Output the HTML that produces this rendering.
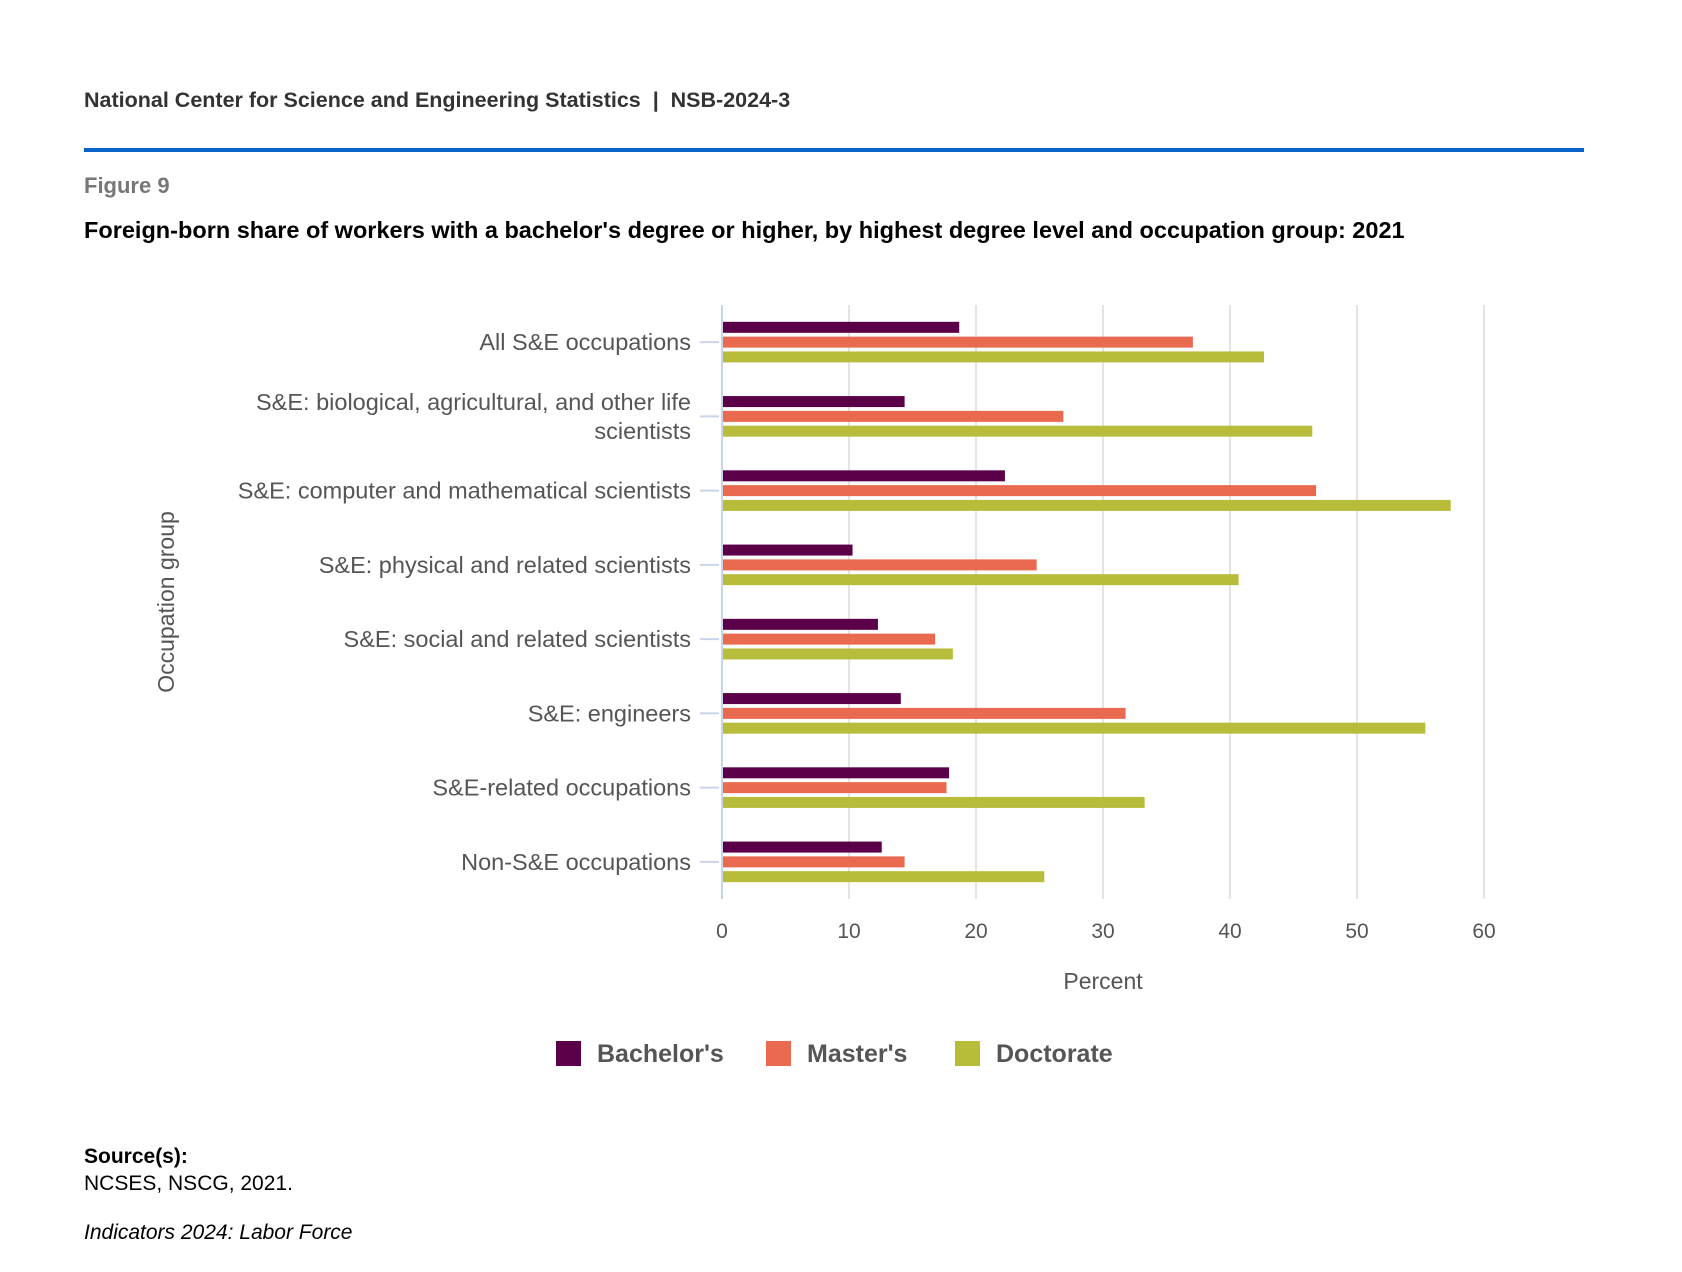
<!DOCTYPE html>
<html><head><meta charset="utf-8"><style>
body{margin:0;background:#fff;width:1682px;height:1272px;overflow:hidden;font-family:"Liberation Sans",sans-serif;}
.abs{position:absolute;white-space:nowrap;}
</style></head><body>
<div class="abs" style="left:84px;top:88px;font-size:21.5px;font-weight:bold;color:#333;">National Center for Science and Engineering Statistics&nbsp; | &nbsp;NSB-2024-3</div>
<div class="abs" style="left:84px;top:148px;width:1500px;height:4px;background:#0b62c9;"></div>
<div class="abs" style="left:84px;top:173px;font-size:22px;font-weight:bold;color:#777;">Figure 9</div>
<div class="abs" style="left:84px;top:217px;font-size:23.5px;font-weight:bold;color:#000;">Foreign-born share of workers with a bachelor's degree or higher, by highest degree level and occupation group: 2021</div>
<svg id="chart" class="abs" style="left:0;top:0" width="1682" height="1272"></svg>
<div class="abs" style="left:84px;top:1145px;font-size:21px;font-weight:bold;">Source(s):</div>
<div class="abs" style="left:84px;top:1172px;font-size:21px;">NCSES, NSCG, 2021.</div>
<div class="abs" style="left:84px;top:1221px;font-size:21px;font-style:italic;">Indicators 2024: Labor Force</div>
<script>
const categories=[["All S&E occupations"],["S&E: biological, agricultural, and other life","scientists"],["S&E: computer and mathematical scientists"],["S&E: physical and related scientists"],["S&E: social and related scientists"],["S&E: engineers"],["S&E-related occupations"],["Non-S&E occupations"]];
const bachelors=[18.6,14.3,22.2,10.2,12.2,14.0,17.8,12.5];
const masters=[37.0,26.8,46.7,24.7,16.7,31.7,17.6,14.3];
const doctorate=[42.6,46.4,57.3,40.6,18.1,55.3,33.2,25.3];
const ticks=[0,10,20,30,40,50,60];
const seriesNames=["Bachelor's","Master's","Doctorate"];
const colors=["#5b0048","#e96a4f","#b7bd3b"];
const svg=document.getElementById('chart');
const NS="http://www.w3.org/2000/svg";
const X0=722,X1=1484,Y0=305,Y1=899;
const x=v=>X0+(v-0)/(60-0)*(X1-X0);
const band=(Y1-Y0)/categories.length;
const yc=i=>Y0+band*(i+0.5);
function mk(t,a){const e=document.createElementNS(NS,t);for(const k in a)e.setAttribute(k,a[k]);svg.appendChild(e);return e;}
ticks.forEach(t=>{
 const g=mk('line',{x1:x(t),x2:x(t),y1:Y0,y2:Y1,stroke:t===0?'#c8d4ea':'#e4e4e4','stroke-width':2});
 
 
 const l=mk('text',{x:x(t),y:938,'text-anchor':'middle','font-size':21,fill:'#555'});
 l.textContent=t;
 
 
});
const series=[bachelors,masters,doctorate];
categories.forEach((c,i)=>{
 const tk=mk('line',{x1:700,x2:719,y1:yc(i),y2:yc(i),stroke:'#c8d4ea','stroke-width':2});
 
 
 const t=mk('text',{x:691,'text-anchor':'end','font-size':23.5,fill:'#555'});
 
 
 const n=c.length;
 c.forEach((s,j)=>{const ts=document.createElementNS(NS,'tspan');ts.setAttribute('x',691);ts.setAttribute('y',yc(i)+8+(j-(n-1)/2)*29);ts.textContent=s;t.appendChild(ts);});
 series.forEach((arr,k)=>{
  const r=mk('rect',{x:x(0)+1,y:yc(i)+(k-1)*14.8-5.5,width:x(arr[i])-x(0),height:11,fill:colors[k]});
  
  
 });
});
const xt=mk('text',{x:x(30),y:989,'text-anchor':'middle','font-size':23,fill:'#555'});
xt.textContent='Percent';


const yt=mk('text',{x:0,y:0,'text-anchor':'middle','font-size':23,fill:'#555',transform:'translate(174,602) rotate(-90)'});
yt.textContent='Occupation group';


const lx=[556,766,955];
seriesNames.forEach((s,k)=>{
 const r=mk('rect',{x:lx[k],y:1041,width:25,height:25,fill:colors[k]});
 
 
 const t=mk('text',{x:lx[k]+41,y:1062,'font-size':25,'font-weight':'bold',fill:'#555'});
 t.textContent=s;
 
 
});
</script>
</body></html>
